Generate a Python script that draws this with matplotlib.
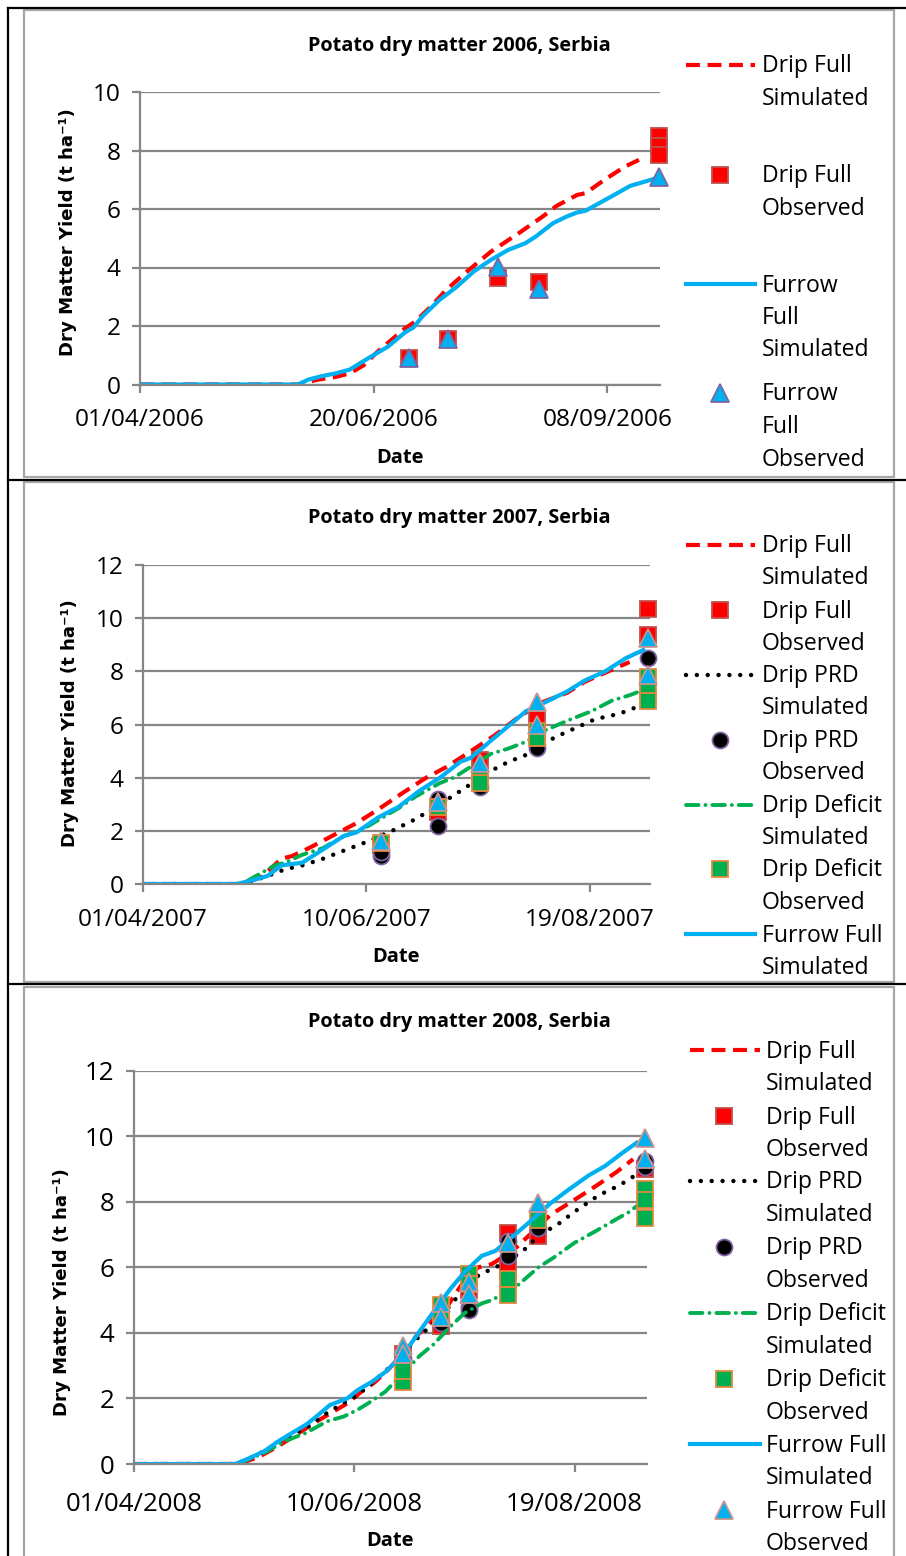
import matplotlib
matplotlib.use("Agg")
import matplotlib.pyplot as plt
from matplotlib.lines import Line2D
from matplotlib.patches import Rectangle

plt.rcParams['lines.scale_dashes'] = False

W, H = 906, 1556

# -----------------------------
# Data (days after 1 April, t/ha)
# -----------------------------
# 2006
ticks_06 = [0, 80, 160]
ticklabels_06 = ["01/04/2006", "20/06/2006", "08/09/2006"]

drip_full_sim_06_d = [0, 55.4, 60, 67, 71.8, 76.6, 81.3, 86, 90.7, 94.2, 98.9, 104.8, 111.9,
                      120.1, 129.6, 137.8, 142.5, 149.6, 152.5, 159, 166, 170.8]
drip_full_sim_06_v = [0, 0, 0.15, 0.26, 0.38, 0.66, 1.12, 1.52, 1.92, 2.15, 2.6, 3.23, 3.86,
                      4.54, 5.17, 5.74, 6.1, 6.48, 6.54, 7.0, 7.45, 7.68]
furrow_sim_06_d = [0, 54, 57.7, 62, 67, 71.8, 79, 84.8, 90.7, 93.6, 96.6, 102.5, 108.4, 114.2,
                   120.1, 126, 131.9, 135.5, 141.3, 146, 149.6, 152.5, 161.4, 167.8, 176.7]
furrow_sim_06_v = [0, 0, 0.17, 0.28, 0.38, 0.51, 0.95, 1.29, 1.78, 1.95, 2.32, 2.89, 3.34, 3.86,
                   4.26, 4.6, 4.83, 5.06, 5.51, 5.74, 5.88, 5.94, 6.43, 6.79, 7.05]
drip_full_obs_06_d = [92, 105.5, 122.5, 136.6, 177.5, 177.5, 177.5]
drip_full_obs_06_v = [0.9, 1.55, 3.65, 3.52, 8.5, 8.15, 7.85]
furrow_obs_06_d = [92, 105.5, 122.5, 136.6, 177.5]
furrow_obs_06_v = [0.9, 1.55, 4.03, 3.25, 7.1]

# 2007
ticks_07 = [0, 70, 140]
ticklabels_07 = ["01/04/2007", "10/06/2007", "19/08/2007"]

drip_full_sim_07_d = [0, 30.5, 37, 43.4, 46.7, 52, 60.7, 67, 73.6, 81, 88.7, 95, 102.7, 110.2,
                      117.8, 125.3, 132.9, 138.2, 144.7, 152.3]
drip_full_sim_07_v = [0, 0, 0.25, 0.95, 1.05, 1.35, 1.9, 2.3, 2.8, 3.4, 4.0, 4.4, 5.0, 5.6,
                      6.3, 6.85, 7.2, 7.6, 7.95, 8.35]
drip_prd_sim_07_d = [0, 31.6, 39, 44.5, 49.9, 56.4, 62.8, 70.4, 78, 85.5, 93, 99.4, 108, 114.5,
                     123, 128.6, 136, 141.5, 149, 155.5]
drip_prd_sim_07_v = [0, 0, 0.3, 0.55, 0.7, 0.95, 1.25, 1.6, 2.0, 2.45, 3.0, 3.5, 4.2, 4.6,
                     5.0, 5.5, 5.9, 6.2, 6.4, 6.7]
drip_def_sim_07_d = [0, 31, 41.3, 44.5, 49.9, 56.4, 62.8, 68, 73.6, 80, 85.5, 93, 97.3, 109,
                     114.5, 119.9, 125.3, 134, 140.4, 146.8, 152.3, 157.7]
drip_def_sim_07_v = [0, 0, 0.7, 0.8, 1.1, 1.35, 1.8, 2.0, 2.4, 2.85, 3.3, 3.8, 4.0, 4.9,
                     5.1, 5.35, 5.75, 6.2, 6.5, 6.9, 7.1, 7.35]
furrow_sim_07_d = [0, 29.4, 33.7, 39, 43.4, 49.9, 56.4, 62.8, 67, 73.6, 80, 86.5, 93, 99.4,
                   102.7, 109, 114.5, 119.9, 125.3, 132.9, 138.2, 144.7, 151.2, 156.6]
furrow_sim_07_v = [0, 0, 0.12, 0.3, 0.7, 0.8, 1.3, 1.8, 1.95, 2.5, 2.9, 3.5, 4.0, 4.6,
                   4.75, 5.4, 5.95, 6.5, 6.8, 7.25, 7.65, 8.0, 8.5, 8.8]

drip_full_obs_07_d = [74.5, 92.5, 105.4, 123.4, 158.2, 158.2]
drip_full_obs_07_v = [1.45, 2.7, 4.65, 6.2, 10.35, 9.35]
drip_prd_obs_07_d = [74.5, 74.5, 92.5, 92.5, 105.4, 123.4, 158.2]
drip_prd_obs_07_v = [1.05, 1.2, 2.2, 3.2, 3.65, 5.1, 8.5]
drip_def_obs_07_d = [74.5, 92.5, 105.4, 105.4, 123.4, 123.4, 158.2, 158.2, 158.2]
drip_def_obs_07_v = [1.55, 2.9, 4.0, 3.8, 5.75, 5.5, 7.8, 7.3, 6.9]
furrow_obs_07_d = [74.5, 92.5, 105.4, 123.4, 123.4, 158.2, 158.2]
furrow_obs_07_v = [1.6, 3.1, 4.55, 6.85, 6.0, 9.25, 7.85]

# 2008
ticks_08 = [0, 70, 140]
ticklabels_08 = ["01/04/2008", "10/06/2008", "19/08/2008"]

drip_full_sim_08_d = [0, 33, 39.4, 46, 52.5, 59, 63.4, 67.8, 72.2, 76.6, 81, 85.3, 89.7, 94,
                      99.5, 105, 109.4, 113.7, 120.3, 126.9, 132.3, 139, 145.5, 153.2, 158.6]
drip_full_sim_08_v = [0, 0, 0.2, 0.55, 0.95, 1.35, 1.6, 1.85, 2.2, 2.5, 2.9, 3.35, 3.9, 4.3,
                      4.8, 5.6, 6.0, 6.1, 6.5, 7.1, 7.6, 8.0, 8.4, 8.9, 9.3]
drip_prd_sim_08_d = [0, 33, 41.6, 48.1, 54.7, 61.3, 65.6, 71, 76.6, 83, 88.6, 93, 98.4, 102.8,
                     109.4, 112.6, 117, 123.6, 129, 134.5, 140, 147.7, 154.2, 160.8]
drip_prd_sim_08_v = [0, 0, 0.4, 0.8, 1.1, 1.55, 1.8, 2.1, 2.55, 3.1, 3.7, 4.1, 4.6, 5.1,
                     5.75, 5.9, 6.1, 6.5, 7.0, 7.3, 7.7, 8.2, 8.5, 8.9]
drip_def_sim_08_d = [0, 33, 41.6, 48.1, 54.7, 61.3, 66.7, 71, 74.4, 79.8, 86.4, 90.8, 95.2,
                     100.6, 105, 110.5, 113.7, 121.3, 128.5, 133.4, 140, 146.6, 152, 157.5, 160.8]
drip_def_sim_08_v = [0, 0, 0.35, 0.7, 0.95, 1.3, 1.45, 1.65, 1.85, 2.2, 2.85, 3.3, 3.65,
                     4.2, 4.6, 4.9, 5.0, 5.4, 6.0, 6.3, 6.75, 7.1, 7.4, 7.7, 7.95]
furrow_sim_08_d = [0, 32.3, 37.2, 41.6, 46, 50.3, 54.7, 58, 62.3, 67.8, 71, 75.5, 79.8, 83,
                   87.5, 91.9, 96, 100.6, 105, 110.5, 114.8, 118, 124.7, 132.3, 137.8, 144.4,
                   149.8, 155.3, 159.7]
furrow_sim_08_v = [0, 0, 0.2, 0.4, 0.7, 0.95, 1.2, 1.45, 1.8, 2.0, 2.25, 2.5, 2.8, 3.1,
                   3.6, 4.2, 4.75, 5.35, 5.85, 6.35, 6.5, 6.75, 7.3, 7.95, 8.35, 8.8,
                   9.1, 9.5, 9.8]

drip_full_obs_08_d = [85.5, 97.6, 106.6, 118.7, 118.7, 128.5, 162.4]
drip_full_obs_08_v = [3.35, 4.2, 5.3, 7.05, 5.95, 6.95, 9.0]
drip_prd_obs_08_d = [85.5, 97.6, 106.6, 106.6, 118.7, 118.7, 128.5, 162.4, 162.4]
drip_prd_obs_08_v = [3.2, 4.3, 4.8, 4.7, 6.8, 6.35, 7.2, 9.25, 9.05]
drip_def_obs_08_d = [85.5, 85.5, 97.6, 97.6, 106.6, 106.6, 118.7, 118.7, 128.5,
                     162.4, 162.4, 162.4]
drip_def_obs_08_v = [2.5, 2.85, 4.85, 4.5, 5.8, 5.5, 5.65, 5.15, 7.45, 8.4, 8.05, 7.5]
furrow_obs_08_d = [85.5, 85.5, 97.6, 97.6, 106.6, 106.6, 118.7, 128.5, 162.4, 162.4]
furrow_obs_08_v = [3.6, 3.35, 4.9, 4.5, 5.55, 5.2, 6.75, 7.95, 9.95, 9.3]

# -----------------------------
# Styles
# -----------------------------
RED, BLUE, GREEN = '#FF0000', '#00B0F0', '#00B050'
GRID = '#868686'
TXT = 'Open Sans'

sty_dfs = dict(color=RED, lw=3.0, dashes=(10, 5.5), dash_capstyle='butt')
sty_prd = dict(color='black', lw=3.2, dashes=(0.01, 7.8), dash_capstyle='round')
sty_def = dict(color=GREEN, lw=2.8, dashes=(9, 5, 0.01, 5), dash_capstyle='round')
sty_fur = dict(color=BLUE, lw=3.0)

mk_dfo = dict(marker='s', ms=12, mfc=RED, mec='#C0504D', mew=1.3, ls='none')
mk_prd = dict(marker='o', ms=11.5, mfc='black', mec='#8064A2', mew=1.3, ls='none')
mk_def = dict(marker='s', ms=12, mfc=GREEN, mec='#E3883C', mew=1.3, ls='none')
mk_fur1 = dict(marker='^', ms=13.5, mfc=BLUE, mec='#8064A2', mew=1.3, ls='none')
mk_fur = dict(marker='^', ms=13.5, mfc=BLUE, mec='#C8968E', mew=1.3, ls='none')


def fx(x):
    return x / W


def fy(y):
    return 1 - y / H


fig = plt.figure(figsize=(W / 100, H / 100), dpi=100)


def make_axes(l, r, t, b, ymax, xmax, ticks, labels, tsize, xpad):
    ax = fig.add_axes([fx(l), fy(b), fx(r - l), (b - t) / H])
    ax.set_xlim(0, xmax)
    ax.set_ylim(0, ymax)
    ax.set_yticks(range(0, ymax + 1, 2))
    ax.set_xticks(ticks)
    ax.set_xticklabels(labels)
    ax.grid(axis='y', color=GRID, lw=1.6)
    ax.set_axisbelow(True)
    for s in ['top', 'right']:
        ax.spines[s].set_visible(False)
    for s in ['left', 'bottom']:
        ax.spines[s].set_color(GRID)
        ax.spines[s].set_linewidth(1.6)
    ax.tick_params(direction='out', length=6, width=1.6, color=GRID,
                   labelsize=tsize, pad=8)
    for t_ in ax.get_xticklabels() + ax.get_yticklabels():
        t_.set_fontfamily(TXT)
    ax.tick_params(axis='x', pad=xpad)
    return ax


def frame(top, bottom):
    fig.add_artist(Rectangle((fx(24), fy(bottom)), fx(894 - 24), (bottom - top) / H,
                             transform=fig.transFigure, fill=False,
                             edgecolor='#A6A6A6', lw=1.6))


def titles(ax, title, ty, xl, xly, yl, yly):
    fig.text(fx(459), fy(ty), title, ha='center', va='center', fontsize=14.3,
             fontweight='bold', family=TXT)
    fig.text(fx(xl), fy(xly), 'Date', ha='center', va='center', fontsize=14.5,
             fontweight='bold', family=TXT)
    fig.text(fx(yl), fy(yly), 'Dry Matter Yield (t ha⁻¹)', ha='center', va='center',
             rotation=90, fontsize=13.1, fontweight='bold', family='DejaVu Sans')


def legend(entries, x0, x1, xm, xt, lh):
    # entries: (first line y, style dict, is_marker, label lines)
    for y, st, is_mk, text in entries:
        if is_mk:
            fig.add_artist(Line2D([fx(xm)], [fy(y)], transform=fig.transFigure, **st))
        else:
            fig.add_artist(Line2D([fx(x0), fx(x1)], [fy(y), fy(y)],
                                  transform=fig.transFigure, **st))
        for i, line in enumerate(text):
            fig.text(fx(xt), fy(y + 1.5 + i * lh), line, ha='left', va='center',
                     fontsize=16.6, family=TXT)


# -----------------------------
# Panel 2006
# -----------------------------
frame(10, 477)
ax1 = make_axes(140, 660, 92, 384.5, 10, 178, ticks_06, ticklabels_06, 17.6, 11)
ax1.plot(drip_full_sim_06_d, drip_full_sim_06_v, **sty_dfs)
ax1.plot(drip_full_obs_06_d, drip_full_obs_06_v, clip_on=False, **mk_dfo)
ax1.plot(furrow_sim_06_d, furrow_sim_06_v, **sty_fur)
ax1.plot(furrow_obs_06_d, furrow_obs_06_v, clip_on=False, **mk_fur1)
titles(ax1, 'Potato dry matter 2006, Serbia', 46, 400, 458, 68, 232)
legend([(65, sty_dfs, False, ['Drip Full', 'Simulated']),
        (175, mk_dfo, True, ['Drip Full', 'Observed']),
        (284, sty_fur, False, ['Furrow', 'Full', 'Simulated']),
        (393, mk_fur1, True, ['Furrow', 'Full', 'Observed'])],
       686, 755, 720, 762, 32.5)

# -----------------------------
# Panel 2007
# -----------------------------
frame(482, 982)
ax2 = make_axes(142.7, 650, 565, 884, 12, 158.7, ticks_07, ticklabels_07, 17.6, 11)
ax2.plot(drip_full_sim_07_d, drip_full_sim_07_v, **sty_dfs)
ax2.plot(drip_full_obs_07_d, drip_full_obs_07_v, clip_on=False, **mk_dfo)
ax2.plot(drip_prd_sim_07_d, drip_prd_sim_07_v, **sty_prd)
ax2.plot(drip_prd_obs_07_d, drip_prd_obs_07_v, clip_on=False, **mk_prd)
ax2.plot(drip_def_sim_07_d, drip_def_sim_07_v, **sty_def)
ax2.plot(drip_def_obs_07_d, drip_def_obs_07_v, clip_on=False, **mk_def)
ax2.plot(furrow_sim_07_d, furrow_sim_07_v, **sty_fur)
ax2.plot(furrow_obs_07_d, furrow_obs_07_v, clip_on=False, **mk_fur)
titles(ax2, 'Potato dry matter 2007, Serbia', 518, 396, 957, 70, 723)
legend([(545, sty_dfs, False, ['Drip Full', 'Simulated']),
        (610, mk_dfo, True, ['Drip Full', 'Observed']),
        (675, sty_prd, False, ['Drip PRD', 'Simulated']),
        (740, mk_prd, True, ['Drip PRD', 'Observed']),
        (805, sty_def, False, ['Drip Deficit', 'Simulated']),
        (869, mk_def, True, ['Drip Deficit', 'Observed']),
        (934, sty_fur, False, ['Furrow Full', 'Simulated'])],
       686, 755, 720, 762, 32)

# -----------------------------
# Panel 2008
# -----------------------------
frame(987, 1600)
ax3 = make_axes(133.8, 647, 1070.7, 1464, 12, 163, ticks_08, ticklabels_08, 18.6, 14)
ax3.plot(drip_full_sim_08_d, drip_full_sim_08_v, **sty_dfs)
ax3.plot(drip_full_obs_08_d, drip_full_obs_08_v, clip_on=False, **mk_dfo)
ax3.plot(drip_prd_sim_08_d, drip_prd_sim_08_v, **sty_prd)
ax3.plot(drip_prd_obs_08_d, drip_prd_obs_08_v, clip_on=False, **mk_prd)
ax3.plot(drip_def_sim_08_d, drip_def_sim_08_v, **sty_def)
ax3.plot(drip_def_obs_08_d, drip_def_obs_08_v, clip_on=False, **mk_def)
ax3.plot(furrow_sim_08_d, furrow_sim_08_v, **sty_fur)
ax3.plot(furrow_obs_08_d, furrow_obs_08_v, clip_on=False, **mk_fur)
titles(ax3, 'Potato dry matter 2008, Serbia', 1022, 390, 1541, 62, 1292)
legend([(1050, sty_dfs, False, ['Drip Full', 'Simulated']),
        (1116, mk_dfo, True, ['Drip Full', 'Observed']),
        (1181, sty_prd, False, ['Drip PRD', 'Simulated']),
        (1247, mk_prd, True, ['Drip PRD', 'Observed']),
        (1313, sty_def, False, ['Drip Deficit', 'Simulated']),
        (1379, mk_def, True, ['Drip Deficit', 'Observed']),
        (1444, sty_fur, False, ['Furrow Full', 'Simulated']),
        (1510, mk_fur, True, ['Furrow Full', 'Observed'])],
       690, 760, 724, 766, 32.5)

# -----------------------------
# Table borders
# -----------------------------
for y in [8, 479.5, 984]:
    fig.add_artist(Line2D([fx(8), 1], [fy(y), fy(y)], transform=fig.transFigure,
                          color='black', lw=1.6))
fig.add_artist(Line2D([fx(8), fx(8)], [fy(8), 0], transform=fig.transFigure,
                      color='black', lw=1.6))

fig.savefig('out.png', dpi=100)
